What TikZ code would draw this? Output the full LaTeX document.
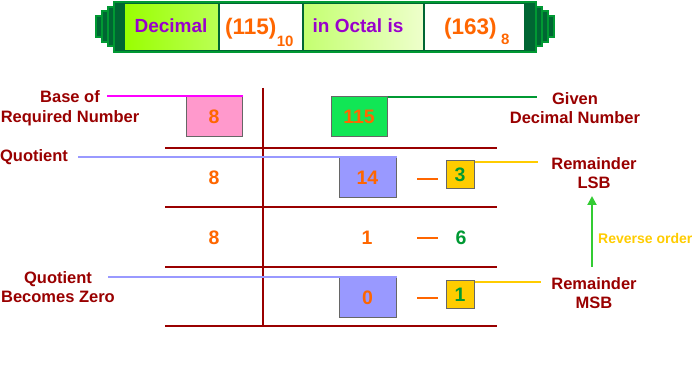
\documentclass[tikz,border=0pt]{standalone}
\usepackage{fontspec}
\setmainfont{Liberation Sans}
\usetikzlibrary{arrows.meta}
\definecolor{dred}{HTML}{990000}
\definecolor{orng}{HTML}{FF6600}
\definecolor{purp}{HTML}{9900CC}
\definecolor{gtxt}{HTML}{009933}
\definecolor{dgreen}{HTML}{006633}
\definecolor{bgreen}{HTML}{009933}
\definecolor{pinkbox}{HTML}{FF99CC}
\definecolor{greenbox}{HTML}{11E655}
\definecolor{bluebox}{HTML}{9999FF}
\definecolor{yellbox}{HTML}{FFCC00}
\definecolor{magline}{HTML}{FF00FF}
\definecolor{arrgreen}{HTML}{33CC33}
\definecolor{grayedge}{HTML}{666666}
\definecolor{gradAa}{HTML}{99FF00}
\definecolor{gradAb}{HTML}{BBFF55}
\definecolor{gradBa}{HTML}{C4FF70}
\definecolor{gradBb}{HTML}{EEFFCC}
\begin{document}
\begin{tikzpicture}[x=1pt,y=-1pt,
  stepblk/.style={fill=dgreen,draw=bgreen,line width=1.5pt},
  cell/.style={draw=dgreen,line width=1.5pt},
  bannertxt/.style={font=\bfseries\fontsize{19}{19}\selectfont,text=purp,inner sep=0pt,anchor=base},
  bignum/.style={font=\bfseries\fontsize{22.5}{22.5}\selectfont,text=orng,inner sep=0pt,anchor=base west},
  subnum/.style={font=\bfseries\fontsize{15}{15}\selectfont,text=orng,inner sep=0pt,anchor=base west},
  tline/.style={draw=dred,line width=1.6pt},
  numbox/.style={draw=grayedge,line width=1pt,inner sep=0pt,font=\bfseries\fontsize{19.5}{19.5}\selectfont,text=orng},
  smallbox/.style={numbox,fill=yellbox,text=gtxt,minimum width=28,minimum height=28},
  bigbox/.style={numbox,minimum width=56,minimum height=40},
  num/.style={inner sep=0pt,font=\bfseries\fontsize{19.5}{19.5}\selectfont,text=orng},
  lbl/.style={align=center,inner sep=0pt,text=dred,font=\bfseries\fontsize{16.5}{19.5}\selectfont},
  conn/.style={line width=1.3pt}
]
\useasboundingbox (0,0) rectangle (697,387);

% ---- banner ----
\draw[stepblk] (96,16) rectangle (102,37);
\draw[stepblk] (102,11) rectangle (108,42);
\draw[stepblk] (108,7) rectangle (114,46);
\draw[stepblk] (548,16) rectangle (554,37);
\draw[stepblk] (542,11) rectangle (548,42);
\draw[stepblk] (536,7) rectangle (542,46);
\draw[fill=dgreen,draw=bgreen,line width=1.5pt] (114,2) rectangle (536,52);
\shade[left color=gradAa,right color=gradAb] (124,3.5) rectangle (219,50.5);
\fill[white] (219,3.5) rectangle (303,50.5);
\shade[left color=gradBa,right color=gradBb] (303,3.5) rectangle (424,50.5);
\fill[white] (424,3.5) rectangle (525,50.5);
\draw[cell] (124,3.5) rectangle (219,50.5);
\draw[cell] (219,3.5) rectangle (303,50.5);
\draw[cell] (303,3.5) rectangle (424,50.5);
\draw[cell] (424,3.5) rectangle (525,50.5);
\node[bannertxt] (tdec) at (171,33) {Decimal};
\node[bignum] (t115) at (225,35) {(115)};
\node[subnum] (t10) at (t115.base east) [yshift=-11.5pt] {10};
\node[bannertxt] (toct) at (358,33) {in Octal is};
\node[bignum] (t163) at (444,35) {(163)};
\node[subnum] (t8) at (t163.base east) [xshift=4pt,yshift=-10pt] {8};

% ---- table lines ----
\coordinate (vt) at (263,88);
\coordinate (vb) at (263,326);
\draw[tline] (vt) -- (vb);
\foreach \y/\n in {148/a,207/b,267/c,326/d}{
  \coordinate (hl\n) at (165,\y);
  \coordinate (hr\n) at (497,\y);
  \draw[tline] (hl\n) -- (hr\n);
}

% ---- boxes and numbers ----
\node[bigbox,fill=pinkbox] (b8) at (214,117) {8};
\node[bigbox,fill=greenbox] (b115) at (359,117) {115};
\node[bigbox,fill=bluebox,minimum width=57] (b14) at (367.5,178) {14};
\node[bigbox,fill=bluebox,minimum width=57] (b0) at (367.5,298) {0};
\node[smallbox] (b3) at (460,175) {3};
\node[smallbox] (b1) at (460,295) {1};
\node[num] (r8a) at (214,178) {8};
\node[num] (r8b) at (214,238) {8};
\node[num] (r1) at (367,238) {1};
\node[num,text=gtxt] (r6) at (461,238) {6};
\foreach \y/\n in {179/a,238/b,298/c}{
  \coordinate (dl\n) at (417,\y);
  \coordinate (dr\n) at (438,\y);
  \draw[orng,line width=1.6pt] (dl\n) -- (dr\n);
}

% ---- labels ----
\node[lbl] (lbase) at (70,108) {Base of\\Required Number};
\node[lbl] (lquot) at (34,157) {Quotient};
\node[lbl] (lzero) at (58,287) {Quotient\\Becomes Zero};
\node[lbl] (lgiven) at (575,108) {Given\\Decimal Number};
\node[lbl] (llsb) at (594,173) {Remainder\\LSB};
\node[lbl] (lmsb) at (594,293) {Remainder\\MSB};
\node[inner sep=0pt,anchor=west,text=yellbox,font=\bfseries\fontsize{14}{14}\selectfont] (lrev) at (598,238) {Reverse order};

% ---- connectors ----
\coordinate (cbase) at (107,96);
\draw[conn,magline] (cbase) -- (cbase -| b8.north east);
\coordinate (cgiven) at (537,97);
\draw[conn,bgreen] (cgiven -| b115.north east) -- (cgiven);
\coordinate (cquot) at (78,157);
\draw[conn,bluebox] (cquot) -- (cquot -| b14.north east);
\coordinate (czero) at (108,277);
\draw[conn,bluebox] (czero) -- (czero -| b0.north east);
\coordinate (clsb) at (538,162);
\draw[conn,yellbox] (clsb -| b3.north east) -- (clsb);
\coordinate (cmsb) at (541,282);
\draw[conn,yellbox] (cmsb -| b1.north east) -- (cmsb);
\coordinate (abot) at (592,267);
\coordinate (atop) at (592,196);
\draw[arrgreen,line width=2pt,-{Triangle[width=9pt,length=9pt]}] (abot) -- (atop);
\end{tikzpicture}
\end{document}
